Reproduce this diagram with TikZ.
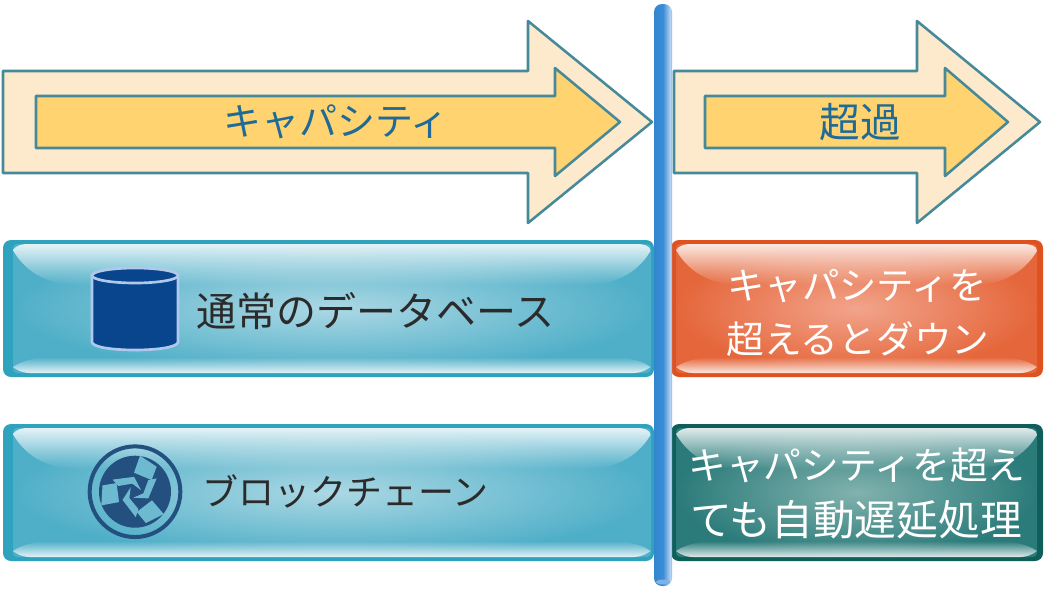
\documentclass[tikz,border=0pt]{standalone}
\usepackage{fontspec}
\newfontfamily\cjk{Noto Sans CJK JP}
\usetikzlibrary{fadings}
\definecolor{blueborder}{HTML}{2FA3BE}
\definecolor{bluebase}{HTML}{4FAFC8}
\definecolor{bluemid}{HTML}{ACD8E4}
\definecolor{redborder}{HTML}{DF5220}
\definecolor{redbase}{HTML}{E5663A}
\definecolor{redmid}{HTML}{F2A48C}
\definecolor{greenborder}{HTML}{0F5E5A}
\definecolor{greenbase}{HTML}{2A7B7A}
\definecolor{greenmid}{HTML}{82B2AE}
\definecolor{arrowouter}{HTML}{FDE9CB}
\definecolor{arrowinner}{HTML}{FFD36F}
\definecolor{arrowline}{HTML}{45899A}
\definecolor{headtext}{HTML}{1F6A96}
\definecolor{darktext}{HTML}{2B2B2B}
\definecolor{cylfill}{HTML}{08458C}
\definecolor{cylline}{HTML}{AFC8EC}
\definecolor{chain}{HTML}{24507F}
\definecolor{chainlight}{HTML}{6DBAD0}
\definecolor{poleedge}{HTML}{8FB8E2}
\definecolor{polemain}{HTML}{2F83CC}
\definecolor{poledeep}{HTML}{3A8DD6}
\definecolor{poleshine}{HTML}{B4D3F0}
\definecolor{polecap}{HTML}{7FB2E2}
\pgfdeclarehorizontalshading{polegrad}{100bp}{
  color(0bp)=(poleedge);
  color(14bp)=(polemain);
  color(50bp)=(poledeep);
  color(70bp)=(poleshine);
  color(84bp)=(poledeep);
  color(100bp)=(poleedge)}
\tikzfading[name=glossdown, top color=transparent!15, bottom color=transparent!100]
\tikzfading[name=glossup, top color=transparent!100, bottom color=transparent!15]
\tikzset{
  arrowout/.style={draw=arrowline, line width=1.9pt, line join=round, fill=arrowouter},
  arrowin/.style={draw=arrowline, line width=1.9pt, line join=round, fill=arrowinner},
  headlabel/.style={text=headtext, inner sep=0pt, font=\cjk\fontsize{#1}{#1}\selectfont},
  panellabel/.style={text=darktext, inner sep=0pt, anchor=west, font=\cjk\fontsize{#1}{#1}\selectfont},
  sidelabel/.style={text=white, inner sep=0pt, font=\cjk\fontsize{#1}{#1}\selectfont},
}
% #1 shift, #2 width, #3 height, #4 border, #5 base, #6 middle, #7 left inset, #8 right inset
\newcommand{\glosspanel}[8]{%
  \begin{scope}[shift={#1}]
    \fill[#4, rounded corners=6pt] (0,0) rectangle (#2,#3);
    \shade[inner color=#6, outer color=#5, rounded corners=3pt]
      (#7,4) rectangle ({#2-#8},{#3-4});
    \fill[white, path fading=glossdown]
      (#7,10) .. controls ({#7+3},6) and ({#7+8},4) .. ({#7+14},4) -- ({#2-#8-14},4)
      .. controls ({#2-#8-6},4) and ({#2-#8},6) .. ({#2-#8},11)
      .. controls ({#2-#8-15},36) and ({#2-#8-40},45) .. ({#2-#8-65},45)
      -- ({#7+65},45) .. controls ({#7+40},45) and ({#7+15},36) .. (#7,10) -- cycle;
    \fill[white, path fading=glossup]
      (#7,127) .. controls ({#7+10},120) and ({#7+25},117) .. ({#7+42},117) -- ({#2-#8-42},117)
      .. controls ({#2-#8-25},117) and ({#2-#8-10},120) .. ({#2-#8},127)
      .. controls ({#2-#8-5},131) and ({#2-#8-11},133) .. ({#2-#8-17},133)
      -- ({#7+17},133) .. controls ({#7+11},133) and ({#7+5},131) .. (#7,127) -- cycle;
  \end{scope}}
\begin{document}
\begin{tikzpicture}[x=0.75pt,y=-0.75pt]
\useasboundingbox (0,0) rectangle (1045,590);
% arrows
\draw[arrowout] (3,71) -- (528,71) -- (528,21) -- (652,122) -- (528,223) -- (528,173) -- (3,173) -- cycle;
\draw[arrowin] (36,96) -- (555,96) -- (555,68) -- (620,122) -- (555,176) -- (555,148) -- (36,148) -- cycle;
\draw[arrowout] (674,71) -- (917,71) -- (917,21) -- (1040,122) -- (917,223) -- (917,173) -- (674,173) -- cycle;
\draw[arrowin] (705,96) -- (945,96) -- (945,68) -- (1008,122) -- (945,176) -- (945,148) -- (705,148) -- cycle;
\node[headlabel=28.5pt] (capacity) at (336,122) {キャパシティ};
\node[headlabel=30.5pt] (excess) at (860,122) {超過};
% panels
\glosspanel{(3,240)}{651}{137}{blueborder}{bluebase}{bluemid}{10}{3}
\glosspanel{(3,424)}{651}{137}{blueborder}{bluebase}{bluemid}{10}{3}
\glosspanel{(671,240)}{372}{137}{redborder}{redbase}{redmid}{5}{6}
\glosspanel{(671,424)}{372}{137}{greenborder}{greenbase}{greenmid}{5}{6}
% pole
\shade[shading=polegrad, rounded corners=6pt] (654,4) rectangle (672,586);
\fill[polecap] (663,582) ellipse [x radius=7, y radius=2.5];
% database icon
\draw[cylline, line width=2pt, fill=cylfill]
  (92,275.5) -- (92,342) .. controls (92,347) and (112,350) .. (135,350)
  .. controls (158,350) and (178,347) .. (178,342) -- (178,275.5) -- cycle;
\draw[cylline, line width=2pt, fill=cylfill] (135,275.5) ellipse [x radius=43, y radius=7.5];
% blockchain icon
\begin{scope}[shift={(135,491.7)}, x=0.25pt, y=-0.25pt]
  \draw[chain, line width=3pt] (0,0) circle [radius=136];
  \fill[chain] (0,0) circle [radius=108];
  \foreach \a in {0,120,240} {
    \begin{scope}[rotate=\a]
      \fill[chainlight] (15,-108) -- (65,-75) -- (50,-35) -- (-3,-57) -- cycle;
      \fill[chainlight] (65,-40) -- (40,20) -- (-5,18) -- (25,5) -- (40,-35) -- cycle;
    \end{scope}
  }
\end{scope}
% labels
\node[panellabel=30pt] (dblabel) at (196,311) {通常のデータベース};
\node[panellabel=27pt] (bclabel) at (202,491) {ブロックチェーン};
\node[sidelabel=28pt] (downa) at (857,286) {キャパシティを};
\node[sidelabel=28.3pt] (downb) at (858,339) {超えるとダウン};
\node[sidelabel=28.3pt] (delaya) at (857,465) {キャパシティを超え};
\node[sidelabel=31.3pt] (delayb) at (856,520) {ても自動遅延処理};
\end{tikzpicture}
\end{document}
